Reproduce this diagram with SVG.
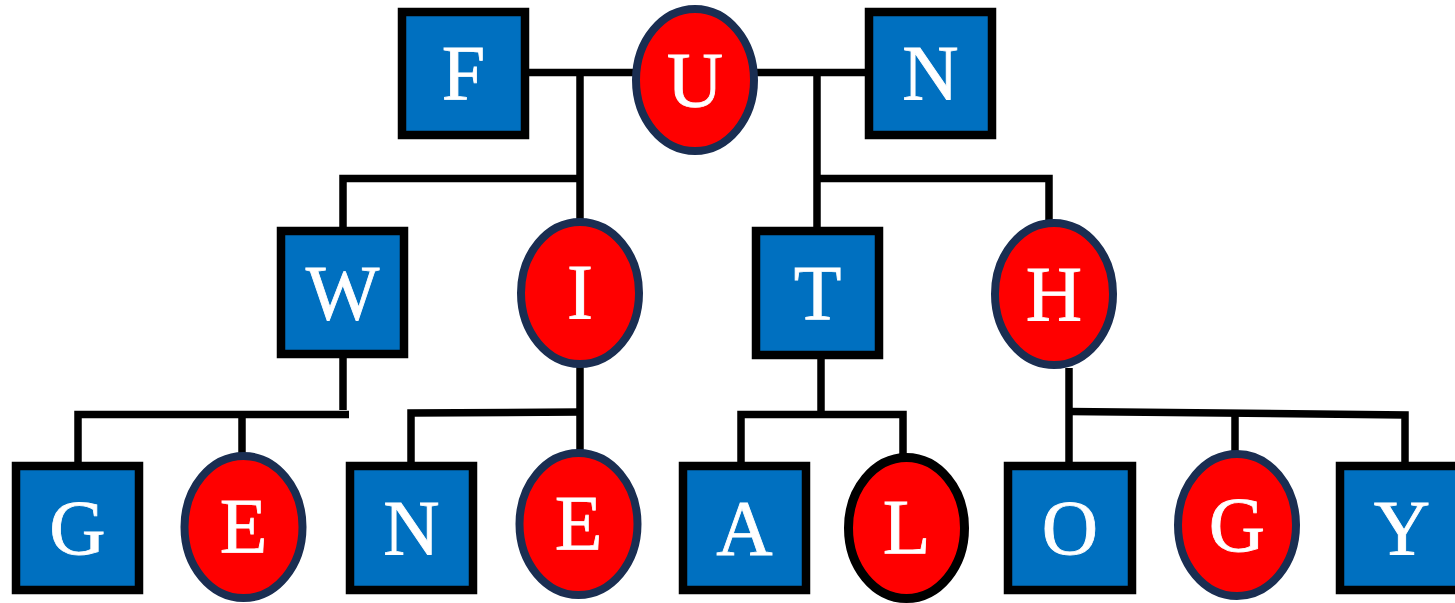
<svg xmlns="http://www.w3.org/2000/svg" width="1455" height="603" viewBox="0 0 1455 603">
<style>
.box{fill:#0070C0;stroke:#000;stroke-width:8.5}
.oval{fill:#FF0000;stroke:#1A2E52;stroke-width:8}
.oval.blk{stroke:#000;stroke-width:9}
.lbl{fill:#fff;stroke:#fff;stroke-width:0.8;font-family:"Liberation Serif","Times New Roman",serif;font-size:78px;text-anchor:middle}
.con path{fill:none;stroke:#000;stroke-width:7.5;stroke-linejoin:miter;stroke-linecap:butt}
</style>
<rect width="1455" height="603" fill="#fff"/>
<g id="connectors" class="con">
<path d="M527 72.5 H634"/>
<path d="M580 72.5 V222"/>
<path d="M580 178.5 H343 V228"/>
<path d="M757 72.5 H866"/>
<path d="M817 72.5 V228"/>
<path d="M817 178.5 H1049 V221"/>
<path d="M343 357 V410"/>
<path d="M349 414.5 H78 V463"/>
<path d="M242 414.5 V453"/>
<path d="M580 367 V450"/>
<path d="M580 412 L411 413 V463"/>
<path d="M821 357 V412"/>
<path d="M741 463 V414.5 H903 V454"/>
<path d="M1069 368 V463"/>
<path d="M1069 411.5 L1405 415 V463"/>
<path d="M1235 413 V451"/>
</g>
<g id="node-F"><rect class="box" x="402" y="12" width="123" height="123"/><text class="lbl" x="463.5" y="99">F</text></g>
<g id="node-U"><ellipse class="oval" cx="695" cy="80" rx="59" ry="71"/><text class="lbl" x="695" y="106">U</text></g>
<g id="node-N1"><rect class="box" x="869" y="12" width="123" height="123"/><text class="lbl" x="930.5" y="99">N</text></g>
<g id="node-W"><rect class="box" x="281" y="231" width="123" height="123"/><text class="lbl" x="342.5" y="319">W</text></g>
<g id="node-I"><ellipse class="oval" cx="580" cy="293" rx="59" ry="71"/><text class="lbl" x="580" y="318">I</text></g>
<g id="node-T"><rect class="box" x="756" y="231" width="123" height="124"/><text class="lbl" x="817.5" y="319">T</text></g>
<g id="node-H"><ellipse class="oval" cx="1054" cy="294" rx="59" ry="71"/><text class="lbl" x="1054" y="320">H</text></g>
<g id="node-G1"><rect class="box" x="16" y="466" width="123" height="124"/><text class="lbl" x="77.5" y="554">G</text></g>
<g id="node-E1"><ellipse class="oval" cx="243.5" cy="527" rx="59" ry="71"/><text class="lbl" x="243.5" y="552">E</text></g>
<g id="node-N2"><rect class="box" x="350" y="466" width="123" height="124"/><text class="lbl" x="411.5" y="554">N</text></g>
<g id="node-E2"><ellipse class="oval" cx="578.5" cy="524" rx="59" ry="71"/><text class="lbl" x="578.5" y="549">E</text></g>
<g id="node-A"><rect class="box" x="683" y="466" width="123" height="124"/><text class="lbl" x="744.5" y="554">A</text></g>
<g id="node-L"><ellipse class="oval blk" cx="906.5" cy="528" rx="58" ry="70.5"/><text class="lbl" x="906.5" y="553">L</text></g>
<g id="node-O"><rect class="box" x="1008" y="466" width="124" height="124"/><text class="lbl" x="1070" y="554">O</text></g>
<g id="node-G2"><ellipse class="oval" cx="1237" cy="525" rx="59" ry="71"/><text class="lbl" x="1237" y="551">G</text></g>
<g id="node-Y"><rect class="box" x="1340" y="466" width="124" height="124"/><text class="lbl" x="1402" y="554">Y</text></g>
</svg>
